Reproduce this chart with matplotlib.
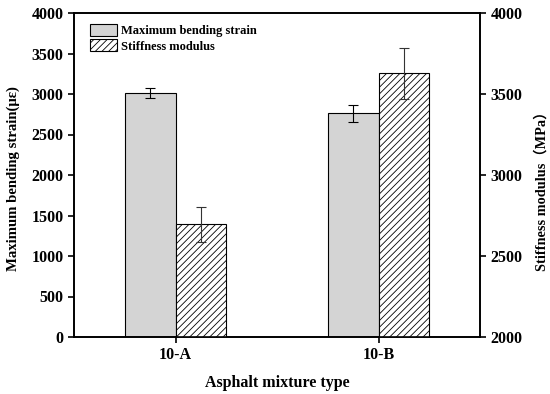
import numpy as np
import matplotlib.pyplot as plt

# data
mixtures = ['10-A', '10-B']
strain = [3010, 2760]          # με, left axis
strain_err = [60, 105]
modulus = [2695, 3627]         # MPa, right axis
modulus_err = [108, 157]

plt.rcParams['font.family'] = ['Liberation Serif', 'Noto Sans CJK SC']
plt.rcParams['font.weight'] = 'bold'
plt.rcParams['hatch.linewidth'] = 0.6

fig = plt.figure(figsize=(5.5, 3.94), dpi=100)
ax = fig.add_axes([74/550, 1-337/394, 406/550, 324/394])
ax2 = ax.twinx()

x = np.arange(len(mixtures))
w = 0.25

b1 = ax.bar(x - w/2, strain, w, color='#d4d4d4', edgecolor='black', linewidth=0.8,
            yerr=strain_err, capsize=3.5, error_kw=dict(elinewidth=0.8, capthick=0.8),
            label='Maximum bending strain')
b2 = ax2.bar(x + w/2, modulus, w, color='white', edgecolor='black', linewidth=0.8,
             hatch='/////', yerr=modulus_err, capsize=3.5,
             error_kw=dict(elinewidth=0.8, capthick=0.8, ecolor='#333333'),
             label='Stiffness modulus')

ax.set_xlim(-0.5, 1.5)
ax.set_ylim(0, 4000)
ax2.set_ylim(2000, 4000)
ax.set_yticks(np.arange(0, 4001, 500))
ax2.set_yticks(np.arange(2000, 4001, 500))
ax.set_xticks(x)
ax.set_xticklabels(mixtures)

for a in (ax, ax2):
    for s in a.spines.values():
        s.set_linewidth(1.2)
    a.tick_params(direction='out', width=1.2, length=4, labelsize=11.5)

ax.set_xlabel('Asphalt mixture type', fontsize=11.5, fontweight='bold', va='center')
ax.set_ylabel('Maximum bending strain(με)', fontsize=10.6, fontweight='bold', va='center')
ax2.set_ylabel('Stiffness modulus（MPa）', fontsize=10.3, fontweight='bold', va='center')
ax.xaxis.set_label_coords(0.5, -0.142)
ax.yaxis.set_label_coords(-0.150, 0.49)
ax2.yaxis.set_label_coords(1.153, 0.46)

ax.legend(handles=[b1, b2], loc='upper left', frameon=False, fontsize=9,
          handlelength=2.2, handleheight=1.1, handletextpad=0.3, labelspacing=0.2,
          bbox_to_anchor=(0.02, 0.99), borderaxespad=0.2)

fig.savefig('out.png', dpi=100)
